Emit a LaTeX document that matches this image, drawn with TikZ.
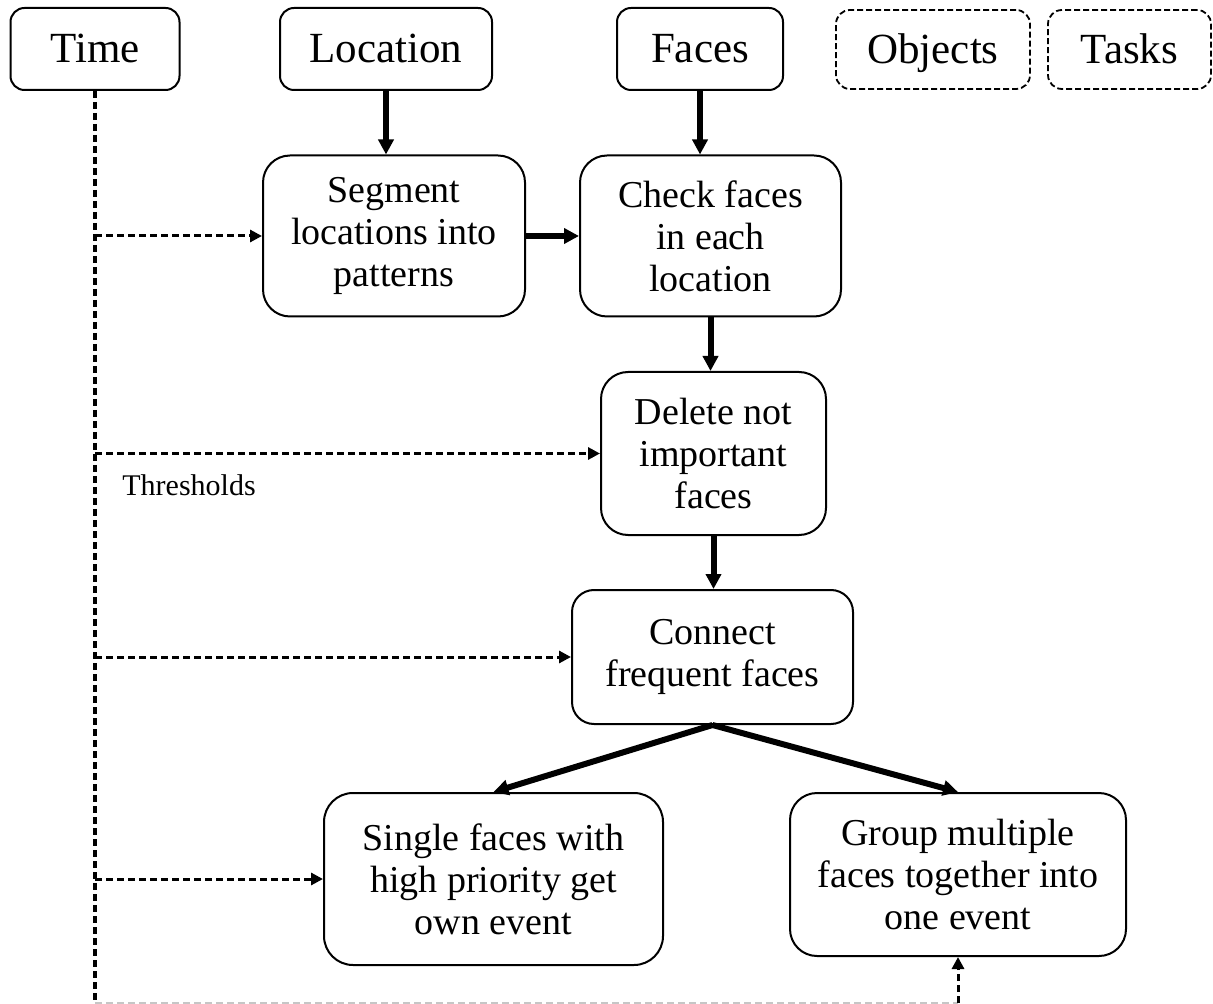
\documentclass[tikz,border=0pt]{standalone}
\usepackage{fontspec}
\setmainfont{Liberation Serif}
\usetikzlibrary{arrows.meta}
\begin{document}
\begin{tikzpicture}[x=0.5pt,y=-0.5pt,
  base/.style={draw, line width=1pt, align=center, inner sep=0pt,
    font=\fontsize{19}{21}\selectfont},
  topbox/.style={base, rounded corners=7pt, minimum height=41pt,
    text height=17pt, text depth=3pt,
    font=\fontsize{21.5}{24}\selectfont},
  optbox/.style={topbox, line width=0.9pt, dash pattern=on 3pt off 1.5pt,
    minimum height=39.5pt},
  stepbox/.style={base, rounded corners=13.5pt},
  flow/.style={line width=3pt, -{Triangle[length=7.5pt,width=7.5pt]}},
  feed/.style={line width=1.5pt, dash pattern=on 3.5pt off 2pt,
    -{Triangle[length=6pt,width=6pt]}},
  spine/.style={line width=2pt, dash pattern=on 3.5pt off 2pt},
]
\useasboundingbox (0,0) rectangle (1213,1004);

% input sources
\node[topbox, minimum width=84.5pt] (time)     at (95,49)    {Time};
\node[topbox, minimum width=106pt]  (location) at (386,49)   {Location};
\node[topbox, minimum width=83pt]   (faces)    at (700,49)   {Faces};
\node[optbox, minimum width=97pt]   (objects)  at (933,49.5) {Objects};
\node[optbox, minimum width=81.5pt] (tasks)    at (1129.5,49.5) {Tasks};

% processing steps
\node[stepbox, minimum width=131pt, minimum height=80.5pt] (segment) at (394,236)
  {Segment\\locations into\\patterns};
\node[stepbox, minimum width=130.5pt, minimum height=80.5pt] (check) at (710.5,236)
  {Check faces\\in each\\location};
\node[stepbox, minimum width=112.5pt, minimum height=81.5pt] (delete) at (713.5,453.5)
  {Delete not\\important\\faces};
\node[stepbox, rounded corners=11pt, minimum width=140.5pt, minimum height=67pt] (connect) at (712.5,657)
  {Connect\\frequent faces};
\node[stepbox, rounded corners=14.5pt, minimum width=169.5pt, minimum height=86pt] (single) at (493.5,879)
  {Single faces with\\high priority get\\own event};
\node[stepbox, minimum width=168pt, minimum height=81.5pt] (group) at (958,874.5)
  {Group multiple\\faces together into\\one event};

\node[anchor=west, inner sep=0pt, font=\fontsize{15}{17}\selectfont] (thr) at (122,485) {Thresholds};

% main flow
\draw[flow] (location.south) -- (location.south |- segment.north);
\draw[flow] (faces.south) -- (faces.south |- check.north);
\draw[flow] (segment.east) -- (check.west);
\draw[flow] (check.south) -- (check.south |- delete.north);
\draw[flow] (delete.south) -- (delete.south |- connect.north);
\draw[flow] (connect.south) -- (single.north);
\draw[flow] (connect.south) -- (group.north);

% time feeds every step
\coordinate (tb) at (95,1003);
\coordinate (gb) at (group.south |- tb);
\draw[spine] (time.south) -- (tb);
\draw[feed] (time.south |- segment.west) -- (segment.west);
\draw[feed] (time.south |- delete.west) -- (delete.west);
\draw[feed] (time.south |- connect.west) -- (connect.west);
\draw[feed] (time.south |- single.west) -- (single.west);
\draw[line width=1.5pt, dash pattern=on 3.5pt off 2pt, gray!45] (tb) -- (gb);
\draw[feed] (gb) -- (group.south);
\end{tikzpicture}
\end{document}
